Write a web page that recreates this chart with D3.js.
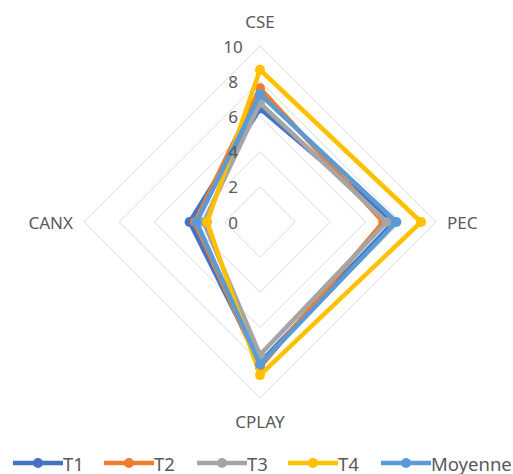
<!DOCTYPE html>
<html>
<head>
<meta charset="utf-8">
<script src="https://cdn.jsdelivr.net/npm/d3@7"></script>
<style>
  html, body { margin: 0; padding: 0; background: #fff; }
  svg { display: block; }
  text { font-family: "Noto Sans", "Open Sans", sans-serif; fill: #595959; }
</style>
</head>
<body>
<svg id="chart" width="513" height="474"></svg>
<script>
// Axes of the radar, clockwise from the top
const axes = ["CSE", "PEC", "CPLAY", "CANX"];
const ticks = [0, 2, 4, 6, 8, 10];

// Scores per axis, in the order of `axes`
const T1 = [6.45, 7.6, 8.0, 4.0];
const T2 = [7.6, 7.0, 8.25, 3.7];
const T3 = [6.75, 7.2, 7.55, 3.2];
const T4 = [8.65, 9.15, 8.7, 3.0];
const Moyenne = [7.25, 7.75, 8.1, 3.6];

const seriesNames = ["T1", "T2", "T3", "T4", "Moyenne"];
const seriesValues = [T1, T2, T3, T4, Moyenne];
const seriesColors = ["#4472C4", "#ED7D31", "#A5A5A5", "#FFC000", "#5B9BD5"];

const svg = d3.select("#chart");
const cx = 260, cy = 222, R = 176;

const r = d3.scaleLinear().domain([0, 10]).range([0, R]);
const angle = d3.scalePoint().domain(axes).range([0, 2 * Math.PI * (axes.length - 1) / axes.length]);

const pt = (axis, v) => {
  const a = angle(axis) - Math.PI / 2;
  return [cx + r(v) * Math.cos(a), cy + r(v) * Math.sin(a)];
};

const closedLine = d3.line().curve(d3.curveLinearClosed);

// Grid rings
const grid = svg.append("g");
ticks.filter(t => t > 0).forEach(t => {
  grid.append("path")
    .attr("d", closedLine(axes.map(a => pt(a, t))))
    .attr("fill", "none")
    .attr("stroke", "#D9D9D9")
    .attr("stroke-width", 1);
});

// Series
const marks = svg.append("g");
seriesValues.forEach((vals, i) => {
  const pts = axes.map((a, j) => pt(a, vals[j]));
  const g = marks.append("g");
  g.append("path")
    .attr("d", closedLine(pts))
    .attr("fill", "none")
    .attr("stroke", seriesColors[i])
    .attr("stroke-width", 4.5)
    .attr("stroke-linejoin", "round");
  g.selectAll("circle").data(pts).join("circle")
    .attr("cx", d => d[0]).attr("cy", d => d[1])
    .attr("r", 5)
    .attr("fill", seriesColors[i]);
});

// Tick labels along the top spoke
svg.append("g").selectAll("text").data(ticks).join("text")
  .attr("x", cx - 27)
  .attr("y", d => cy - r(d))
  .attr("text-anchor", "middle")
  .attr("dominant-baseline", "central")
  .attr("font-size", 17)
  .text(d => d);

// Axis labels
const labelPos = {
  CSE: { x: cx, y: 21, anchor: "middle" },
  PEC: { x: 447, y: cy, anchor: "start" },
  CPLAY: { x: cx, y: 421, anchor: "middle" },
  CANX: { x: 73, y: cy, anchor: "end" }
};
svg.append("g").selectAll("text").data(axes).join("text")
  .attr("x", d => labelPos[d].x)
  .attr("y", d => labelPos[d].y)
  .attr("text-anchor", d => labelPos[d].anchor)
  .attr("dominant-baseline", "central")
  .attr("font-size", 17)
  .text(d => d);

// Legend
const legendX = [13, 104, 197, 288, 381];
const ly = 463;
const legend = svg.append("g");
seriesNames.forEach((name, i) => {
  const g = legend.append("g").attr("transform", `translate(${legendX[i]},${ly})`);
  g.append("line").attr("x1", 0).attr("x2", 50).attr("y1", 0).attr("y2", 0)
    .attr("stroke", seriesColors[i]).attr("stroke-width", 4.5);
  g.append("circle").attr("cx", 25).attr("cy", 0).attr("r", 5).attr("fill", seriesColors[i]);
  g.append("text").attr("x", 50).attr("y", 0)
    .attr("dominant-baseline", "central")
    .attr("font-size", 18.5)
    .text(name);
});
</script>
</body>
</html>
